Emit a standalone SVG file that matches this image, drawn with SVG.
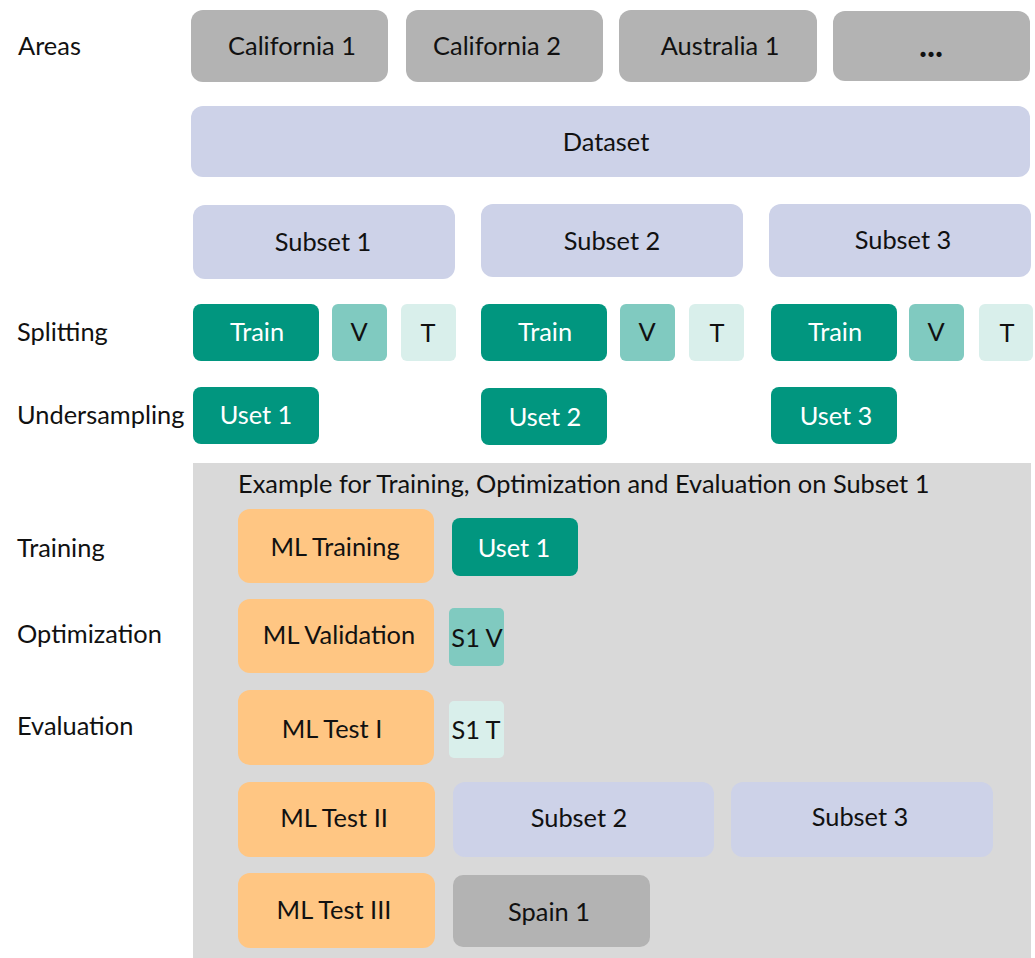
<svg xmlns="http://www.w3.org/2000/svg" width="1035" height="958" viewBox="0 0 1035 958">
<style>
text{font-family:Lato,"Open Sans","Liberation Sans",sans-serif;font-size:25.4px;fill:#111}
.c{text-anchor:middle;dominant-baseline:central}
.w{fill:#fff}
.area{fill:#b3b3b3}
.blue{fill:#cdd2e8}
.teal{fill:#01967f}
.v{fill:#80cac0}
.t{fill:#d9efeb}
.org{fill:#ffc683}
</style>
<rect x="0" y="0" width="1035" height="958" fill="#fff"/>
<g id="labels">
<text x="18" y="55">Areas</text>
<text x="17" y="341">Splitting</text>
<text x="17" y="424">Undersampling</text>
<text x="17" y="557">Training</text>
<text x="17" y="643">Optimization</text>
<text x="17" y="735">Evaluation</text>
</g>
<g id="area-california1"><rect class="area" x="191" y="10" width="197" height="72" rx="12"/><text class="c" x="292" y="45">California 1</text></g>
<g id="area-california2"><rect class="area" x="406" y="10" width="197" height="72" rx="12"/><text class="c" x="497" y="45">California 2</text></g>
<g id="area-australia1"><rect class="area" x="619" y="10" width="198" height="72" rx="12"/><text class="c" x="720" y="45">Australia 1</text></g>
<g id="area-more"><rect class="area" x="833" y="11" width="197" height="70" rx="12"/><text x="931" y="57" text-anchor="middle" style="font-weight:bold;font-size:34px">...</text></g>
<g id="dataset"><rect class="blue" x="191" y="106" width="839" height="71" rx="12"/><text class="c" x="606" y="141">Dataset</text></g>
<g id="subset1"><rect class="blue" x="193" y="205" width="262" height="74" rx="12"/><text class="c" x="323" y="241">Subset 1</text></g>
<g id="subset2"><rect class="blue" x="481" y="204" width="262" height="73" rx="12"/><text class="c" x="612" y="240">Subset 2</text></g>
<g id="subset3"><rect class="blue" x="769" y="204" width="262" height="73" rx="12"/><text class="c" x="903" y="239">Subset 3</text></g>
<g id="train1"><rect class="teal" x="193" y="304" width="126" height="57" rx="8"/><text class="c w" x="257" y="331">Train</text></g>
<g id="v1"><rect class="v" x="332" y="304" width="55" height="57" rx="6"/><text class="c" x="359" y="331">V</text></g>
<g id="t1"><rect class="t" x="401" y="304" width="55" height="57" rx="6"/><text class="c" x="428" y="332">T</text></g>
<g id="train2"><rect class="teal" x="481" y="304" width="126" height="57" rx="8"/><text class="c w" x="545" y="331">Train</text></g>
<g id="v2"><rect class="v" x="620" y="304" width="55" height="57" rx="6"/><text class="c" x="647" y="331">V</text></g>
<g id="t2"><rect class="t" x="689" y="304" width="55" height="57" rx="6"/><text class="c" x="717" y="332">T</text></g>
<g id="train3"><rect class="teal" x="771" y="304" width="126" height="57" rx="8"/><text class="c w" x="835" y="331">Train</text></g>
<g id="v3"><rect class="v" x="909" y="304" width="55" height="57" rx="6"/><text class="c" x="936" y="331">V</text></g>
<g id="t3"><rect class="t" x="979" y="304" width="54" height="57" rx="6"/><text class="c" x="1007" y="332">T</text></g>
<g id="uset1"><rect class="teal" x="193" y="387" width="126" height="57" rx="8"/><text class="c w" x="256" y="414">Uset 1</text></g>
<g id="uset2"><rect class="teal" x="481" y="388" width="126" height="57" rx="8"/><text class="c w" x="545" y="416">Uset 2</text></g>
<g id="uset3"><rect class="teal" x="771" y="387" width="126" height="57" rx="8"/><text class="c w" x="836" y="415">Uset 3</text></g>
<g id="example-panel">
<rect x="193" y="463" width="838" height="495" fill="#d9d9d9"/>
<text x="238" y="493">Example for Training, Optimization and Evaluation on Subset 1</text>
</g>
<g id="ml-training"><rect class="org" x="238" y="509" width="196" height="74" rx="12"/><text class="c" x="335" y="546">ML Training</text></g>
<g id="uset1-train"><rect class="teal" x="452" y="518" width="126" height="58" rx="8"/><text class="c w" x="514" y="547">Uset 1</text></g>
<g id="ml-validation"><rect class="org" x="238" y="599" width="196" height="74" rx="12"/><text class="c" x="339" y="634">ML Validation</text></g>
<g id="s1v"><rect class="v" x="449" y="608" width="55" height="58" rx="5"/><text class="c" x="477" y="637">S1 V</text></g>
<g id="ml-test1"><rect class="org" x="238" y="690" width="196" height="75" rx="12"/><text class="c" x="332" y="728">ML Test I</text></g>
<g id="s1t"><rect class="t" x="449" y="701" width="55" height="57" rx="5"/><text class="c" x="476" y="729">S1 T</text></g>
<g id="ml-test2"><rect class="org" x="238" y="782" width="197" height="75" rx="12"/><text class="c" x="334" y="817">ML Test II</text></g>
<g id="subset2-test"><rect class="blue" x="453" y="782" width="261" height="75" rx="12"/><text class="c" x="579" y="817">Subset 2</text></g>
<g id="subset3-test"><rect class="blue" x="731" y="782" width="262" height="75" rx="12"/><text class="c" x="860" y="816">Subset 3</text></g>
<g id="ml-test3"><rect class="org" x="238" y="873" width="197" height="75" rx="12"/><text class="c" x="334" y="909">ML Test III</text></g>
<g id="spain1"><rect class="area" x="453" y="875" width="197" height="72" rx="10"/><text class="c" x="549" y="911">Spain 1</text></g>
<g id="connectors"></g>
</svg>
